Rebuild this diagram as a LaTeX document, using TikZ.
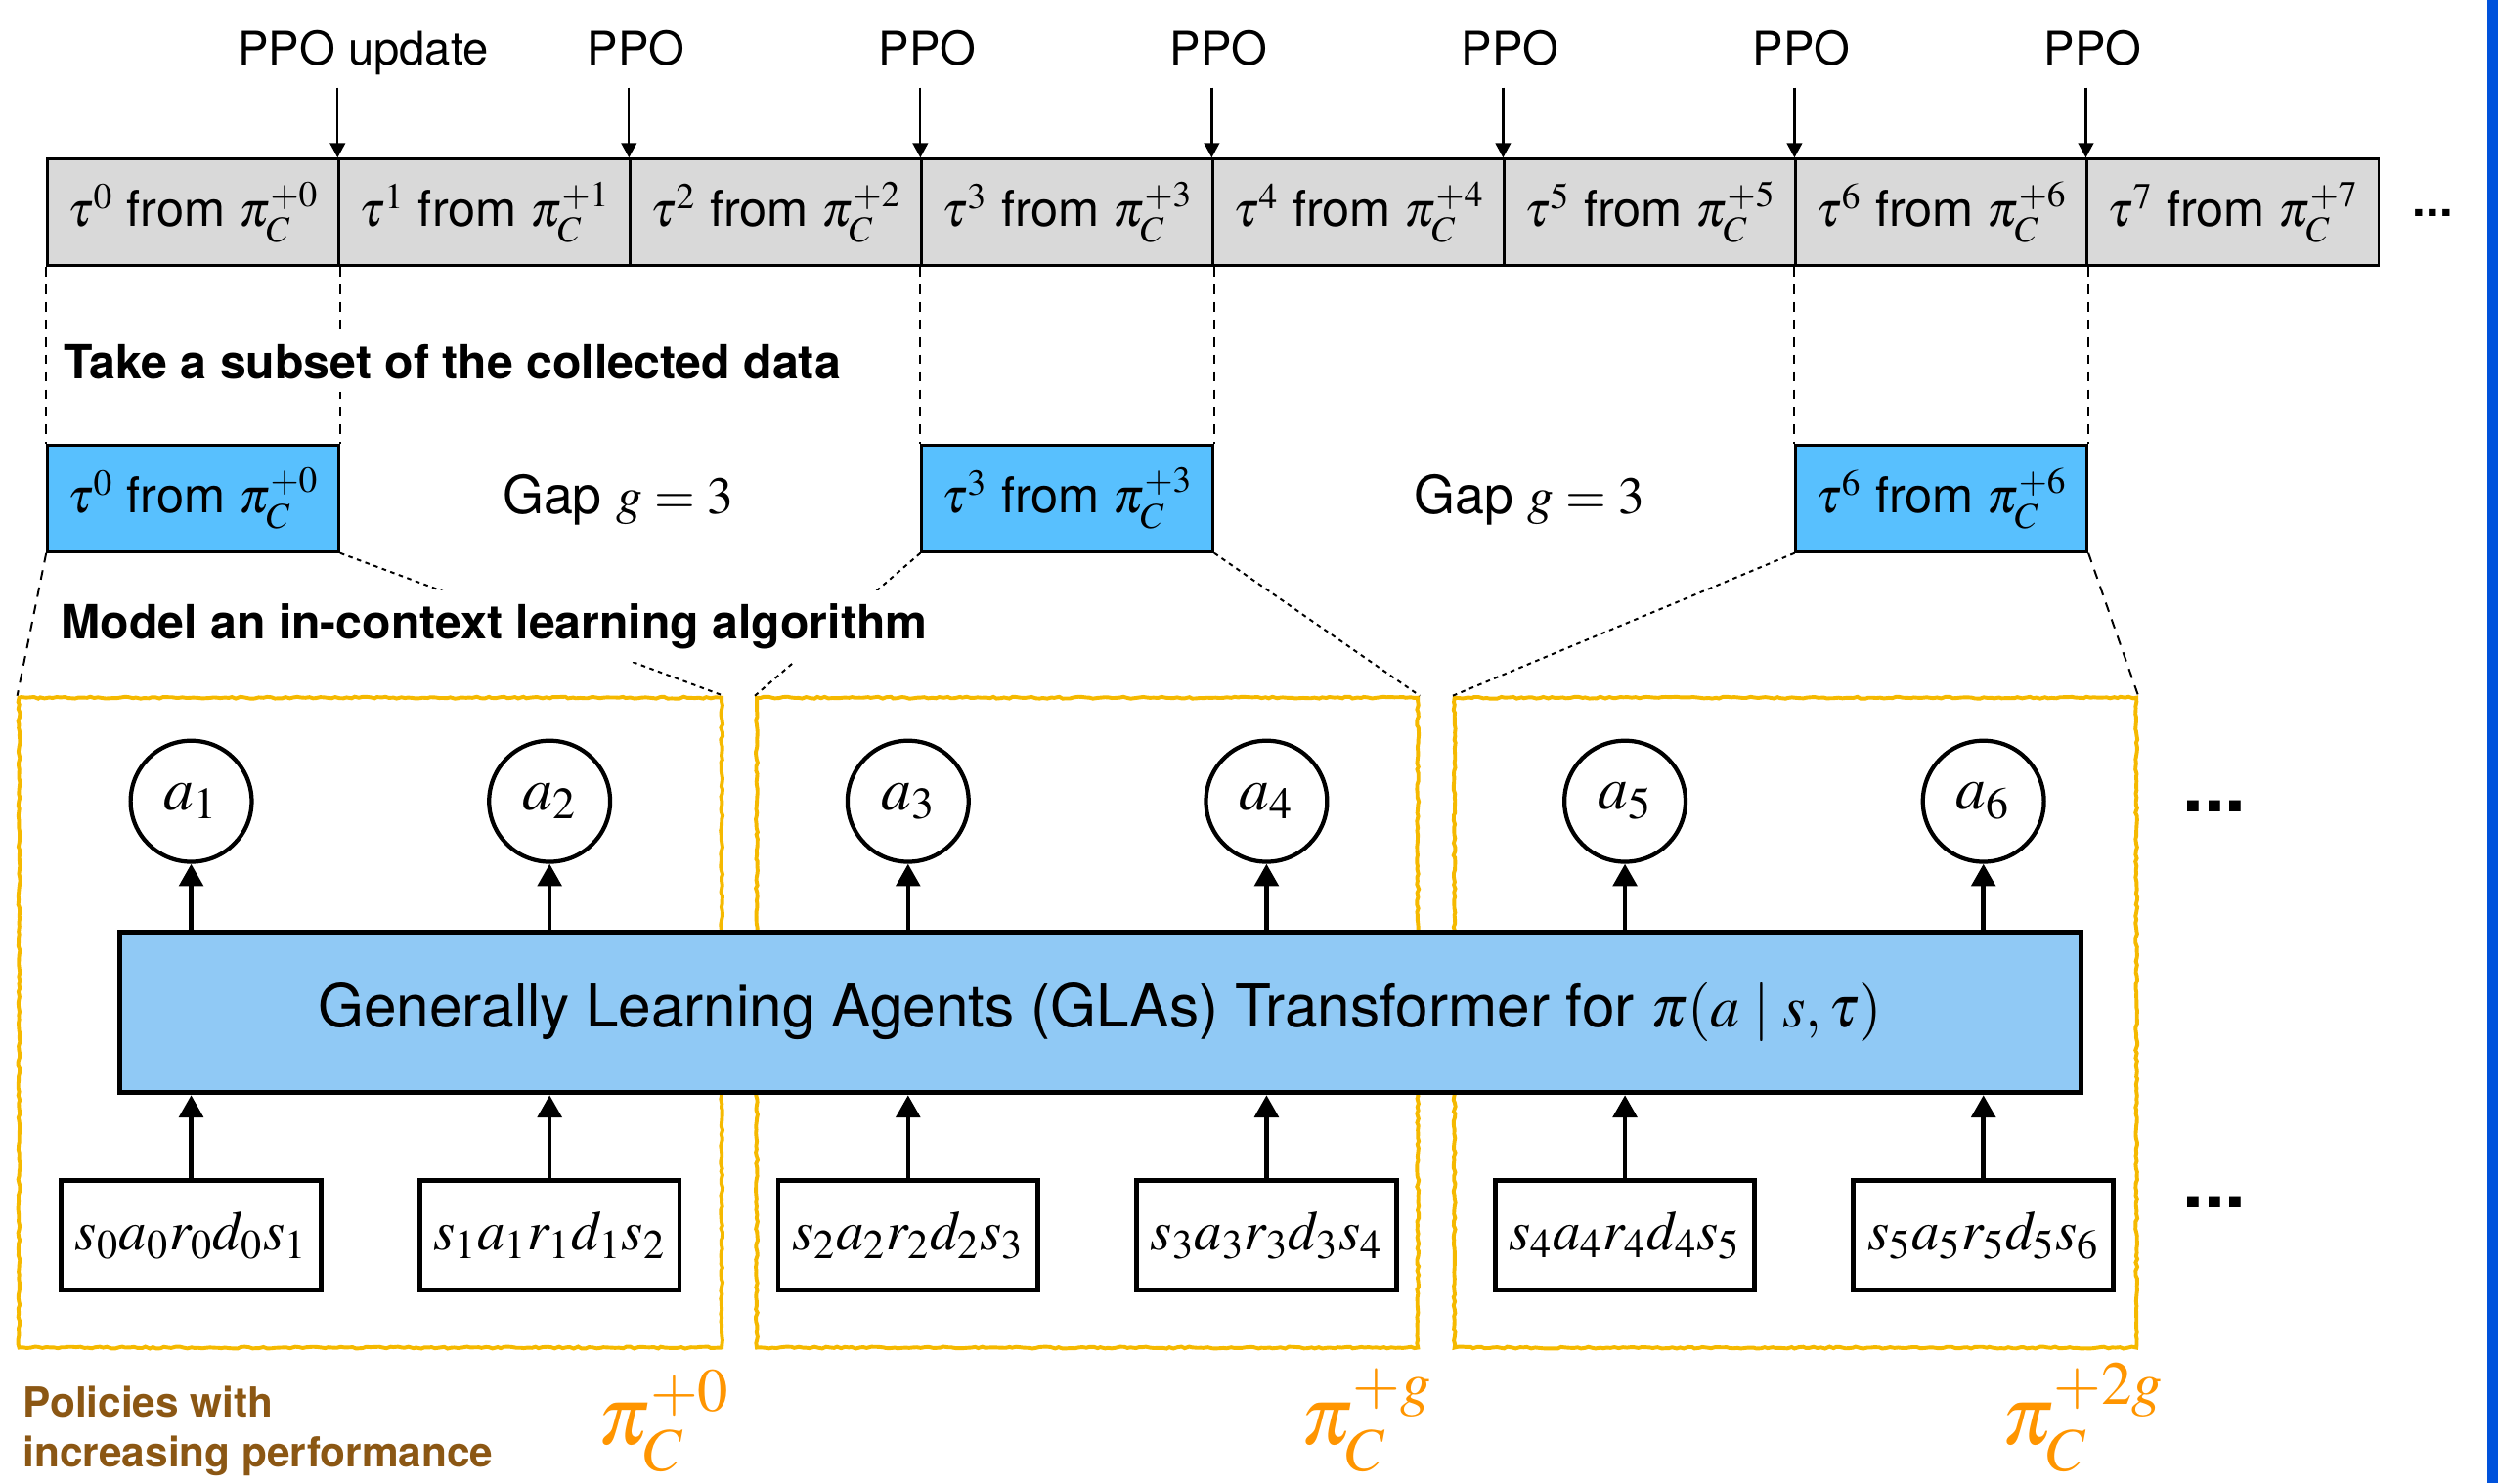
\documentclass[tikz,border=0pt]{standalone}
\usepackage{mathptmx}
\usepackage[no-math]{fontspec}
\setmainfont{TeX Gyre Heros}
\usetikzlibrary{arrows.meta,positioning,decorations.pathmorphing}

\definecolor{cellgray}{RGB}{217,217,217}
\definecolor{subblue}{RGB}{88,192,254}
\definecolor{glablue}{RGB}{144,201,245}
\definecolor{ctxyellow}{RGB}{245,185,0}
\definecolor{polbrown}{RGB}{139,87,20}
\definecolor{polorange}{RGB}{255,149,0}
\definecolor{edgeblue}{RGB}{0,82,220}

\tikzset{
  cell/.style={draw, line width=0.8pt, fill=cellgray, minimum width=91.45pt,
    minimum height=33.5pt, inner sep=0pt, font=\fontsize{15.5}{18}\selectfont},
  subcell/.style={cell, fill=subblue},
  ppo/.style={anchor=base, inner sep=0pt, font=\fontsize{14.5}{17}\selectfont},
  ppoarrow/.style={line width=0.7pt, -{Triangle[length=4.6pt,width=4.8pt]}},
  dropline/.style={line width=0.6pt, dash pattern=on 3pt off 2.5pt},
  zoomline/.style={line width=0.6pt, dash pattern=on 1.4pt off 1.4pt},
  note/.style={anchor=west, fill=white, inner sep=4pt, font=\bfseries\fontsize{14.8}{17}\selectfont},
  gap/.style={font=\fontsize{16.5}{19}\selectfont},
  ctxbox/.style={draw=ctxyellow, line width=1.2pt, minimum width=#1, minimum height=204pt,
    inner sep=0pt, decorate, decoration={random steps, segment length=1.2pt, amplitude=0.3pt}},
  act/.style={circle, draw, line width=1.3pt, minimum size=38pt, inner sep=0pt,
    font=\fontsize{19}{22}\selectfont},
  seg/.style={draw, line width=1.5pt, fill=white, minimum width=81.5pt, minimum height=34.5pt,
    inner sep=0pt, font=\fontsize{17.5}{21}\selectfont},
  gla/.style={draw, line width=1.5pt, fill=glablue, minimum width=615.5pt, minimum height=50.5pt,
    font=\fontsize{18.5}{22}\selectfont},
  flow/.style={line width=1.4pt, -{Triangle[length=7pt,width=7.5pt]}},
  dots/.style={inner sep=0pt, font=\bfseries\fontsize{#1}{#1}\selectfont},
  pol/.style={anchor=base west, inner sep=0pt, text=polorange, font=\fontsize{26}{30}\selectfont},
}

\begin{document}
\begin{tikzpicture}[x=0.5pt, y=-0.5pt]
  \pgfmathsetseed{7}
  \useasboundingbox (0,0) rectangle (1568,931);
  % blue strip on the right edge
  \fill [edgeblue] (1561,0) rectangle (1568,931);
  % collected trajectories
  \foreach \i in {0,...,7}
    \node [cell, anchor=north west] (tau\i) at ({29+182.9*\i},99) {$\tau^{\i}$ from $\pi_C^{+\i}$};
  \node [dots=15] (moretau) at (1527,134) {...};
  % PPO updates
  \node [ppo] (ppo1) at (228,41) {PPO update};
  \foreach \i in {2,...,7}
    \node [ppo] (ppo\i) at ({29+182.9*\i+4.5},41) {PPO};
  \foreach \i in {1,...,7}
    \draw [ppoarrow] ([yshift=22pt]tau\i.north west) -- (tau\i.north west);
  % subset of the data
  \foreach \i in {0,3,6} {
    \node [subcell, below=55.5pt of tau\i] (sub\i) {$\tau^{\i}$ from $\pi_C^{+\i}$};
    \draw [dropline] (tau\i.south west) -- (sub\i.north west);
    \draw [dropline] (tau\i.south east) -- (sub\i.north east);
  }
  \node [note] (subset) at (32,227) {Take a subset of the collected data};
  \node [gap] (gap1) at (388,314) {Gap $g = 3$};
  \node [gap] (gap2) at (960,314) {Gap $g = 3$};
  % one context per policy
  \node [ctxbox=220.5pt] (ctx1) at (232.5,642) {};
  \node [ctxbox=207.5pt] (ctx2) at (682.5,642) {};
  \node [ctxbox=214pt] (ctx3) at (1127,642) {};
  \draw [dropline] (sub0.south west) -- (ctx1.north west);
  \draw [zoomline] (sub0.south east) -- (ctx1.north east);
  \draw [zoomline] (sub3.south west) -- (ctx2.north west);
  \draw [zoomline] (sub3.south east) -- (ctx2.north east);
  \draw [zoomline] (sub6.south west) -- (ctx3.north west);
  \draw [dropline] (sub6.south east) -- (ctx3.north east);
  \node [note] (model) at (30,393) {Model an in-context learning algorithm};
  % transformer with its inputs and actions
  \node [gla] (gla) at (690.5,635.5) {Generally Learning Agents (GLAs) Transformer for $\pi(a \mid s, \tau)$};
  \foreach \k in {1,...,6} {
    \pgfmathtruncatemacro{\j}{\k-1}
    \node [act] (a\k) at ({120+225*(\k-1)},503) {$a_{\k}$};
    \node [seg] (in\k) at ({120+225*(\k-1)},775.5) {$s_{\j}a_{\j}r_{\j}d_{\j}s_{\k}$};
    \draw [flow] (gla.north -| a\k.south) -- (a\k.south);
    \draw [flow] (in\k.north) -- (in\k.north |- gla.south);
  }
  \node [dots=24] (moreact) at (1390,506) {...};
  \node [dots=24] (moreseg) at (1390,755) {...};
  % policies
  \node [anchor=north west, align=left, inner sep=0pt, text=polbrown,
    font=\bfseries\fontsize{13}{15.5}\selectfont] (perf) at (14,870) {Policies with\\increasing performance};
  \node [pol] (pol0) at (375,907) {$\pi_C^{+0}$};
  \node [pol] (polg) at (816,907) {$\pi_C^{+g}$};
  \node [pol] (pol2g) at (1256,907) {$\pi_C^{+2g}$};
\end{tikzpicture}
\end{document}
